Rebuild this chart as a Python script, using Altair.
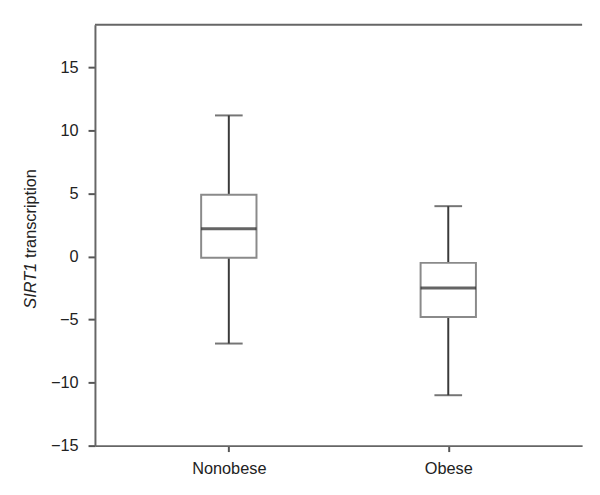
import altair as alt
import pandas as pd

groups = ["Nonobese", "Obese"]
whisker_low = [-6.9, -11.0]
q1 = [-0.1, -4.8]
median = [2.2, -2.5]
q3 = [4.9, -0.5]
whisker_high = [11.2, 4.0]
y_ticks = [-15, -10, -5, 0, 5, 10, 15]

df = pd.DataFrame({
    "group": groups, "lo": whisker_low, "q1": q1,
    "med": median, "q3": q3, "hi": whisker_high,
})

W, H = 493, 426
FONT = "Liberation Sans"

xenc = alt.X("group:N", sort=groups, title=None,
             scale=alt.Scale(type="point", padding=0.61),
             axis=alt.Axis(labelAngle=0, labelFontSize=16.5, labelFont=FONT,
                           labelColor="#222", tickSize=6, tickWidth=2,
                           tickColor="#555", domainColor="#666",
                           domainWidth=2, labelPadding=9))
yscale = alt.Scale(domain=[-15, 18.4], nice=False, zero=False)
yaxis = alt.Axis(values=y_ticks, title=None, labelFontSize=16.5, labelFont=FONT,
                 labelColor="#222", tickSize=7, tickWidth=2, tickColor="#555",
                 domainColor="#666", domainWidth=2, labelPadding=10, grid=False)

base = alt.Chart(df)

whisk = base.mark_rule(color="#3a3a3a", strokeWidth=2).encode(
    x=xenc, y=alt.Y("lo:Q", scale=yscale, axis=yaxis), y2="hi:Q")
caps_hi = base.mark_tick(color="#3a3a3a", size=28, thickness=2).encode(
    x="group:N", y="hi:Q")
caps_lo = base.mark_tick(color="#3a3a3a", size=28, thickness=2).encode(
    x="group:N", y="lo:Q")
box = base.mark_bar(size=56, fill="white", stroke="#8a8a8a", strokeWidth=2).encode(
    x="group:N", y="q1:Q", y2="q3:Q")
med = base.mark_tick(color="#222", size=56, thickness=3).encode(
    x="group:N", y="med:Q")

top_line = alt.Chart(pd.DataFrame({"a": [0]})).mark_rule(
    color="#666", strokeWidth=2).encode(
    x=alt.value(0), x2=alt.value(W), y=alt.value(0))

one = pd.DataFrame({"a": [0]})
title_it = alt.Chart(one).mark_text(
    angle=270, align="right", baseline="middle", font=FONT, fontSize=16.5,
    fontStyle="italic", color="#222").encode(
    x=alt.value(-65), y=alt.value(241), text=alt.value("SIRT1"))
title_rest = alt.Chart(one).mark_text(
    angle=270, align="left", baseline="middle", font=FONT, fontSize=16.5,
    color="#222").encode(
    x=alt.value(-65), y=alt.value(236), text=alt.value("transcription"))

chart = alt.layer(whisk, caps_hi, caps_lo, box, med, top_line,
                  title_it, title_rest).properties(
    width=W, height=H,
    autosize=alt.AutoSizeParams(type="none"),
    padding={"left": 88, "top": 14, "right": 10, "bottom": 40},
).configure_view(stroke=None)

chart.save("out.html", embed_options={"renderer": "svg", "actions": False})
